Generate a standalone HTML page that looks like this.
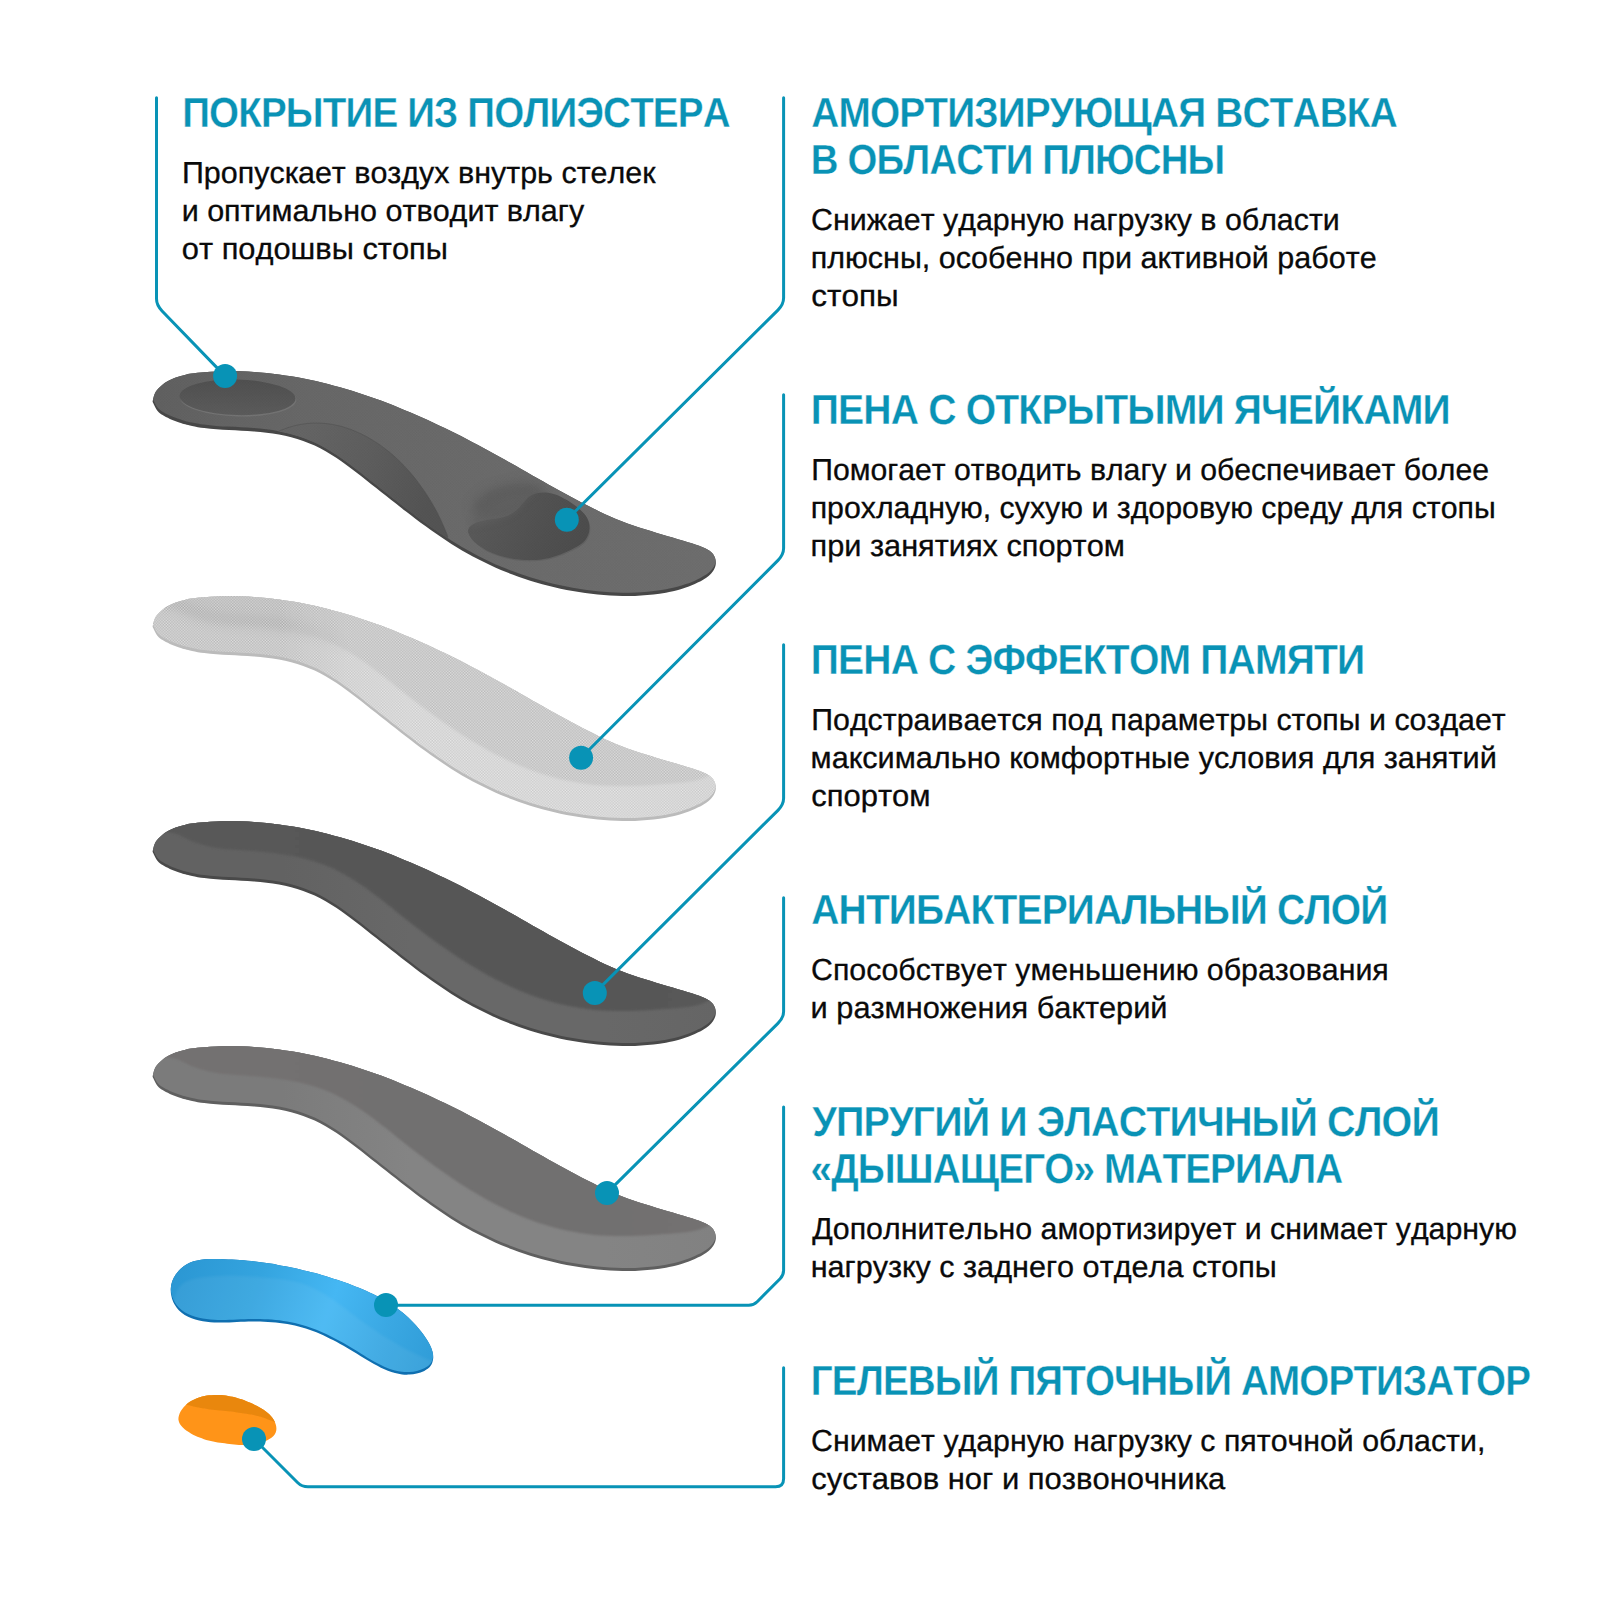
<!DOCTYPE html>
<html lang="ru"><head><meta charset="utf-8"><title>Стельки — слои</title>
<style>
html,body{margin:0;padding:0;background:#fff}
body{width:1600px;height:1600px;overflow:hidden}
svg{display:block}
text{font-kerning:none;text-rendering:geometricPrecision}
text.h{font-family:"Liberation Sans",sans-serif;font-weight:700;font-size:42.1px;fill:#0992b5;stroke:#fff;stroke-width:0.35px;letter-spacing:-0.9px}
text.b{font-family:"Liberation Sans",sans-serif;font-weight:400;font-size:30.4px;fill:#0a0a0a;stroke:#0a0a0a;stroke-width:0.3px}
</style></head><body>
<svg width="1600" height="1600" viewBox="0 0 1600 1600">
<defs>
<path id="outl" d="M152.9,400.1C153.3,398.2 154.2,394.5 155.6,392.0C157.1,389.6 159.5,387.2 161.6,385.4C163.6,383.6 165.5,382.4 168.0,381.0C170.5,379.7 173.8,378.3 176.6,377.3C179.4,376.2 182.3,375.5 184.8,374.9C187.3,374.3 188.3,374.1 191.5,373.6C194.7,373.1 199.8,372.5 204.0,372.2C208.2,371.8 212.4,371.5 216.6,371.4C220.7,371.2 224.9,371.1 229.1,371.1C233.3,371.0 237.4,371.1 241.6,371.2C245.8,371.4 249.9,371.6 254.1,371.9C258.3,372.2 262.4,372.5 266.6,372.9C270.7,373.4 274.8,373.9 279.0,374.4C283.1,375.0 287.2,375.6 291.3,376.3C295.4,377.0 299.5,377.7 303.6,378.5C307.7,379.3 311.8,380.2 315.8,381.1C319.9,382.0 323.9,383.0 328.0,384.0C332.0,385.1 336.0,386.2 340.0,387.3C344.0,388.4 348.0,389.6 352.0,390.8C356.0,392.1 359.9,393.3 363.9,394.7C367.8,396.0 371.7,397.3 375.7,398.8C379.6,400.2 383.5,401.6 387.4,403.1C391.3,404.6 395.1,406.1 399.0,407.7C402.9,409.3 406.7,410.9 410.6,412.5C414.4,414.1 418.2,415.8 422.0,417.5C425.8,419.2 429.6,421.0 433.4,422.7C437.2,424.5 440.9,426.3 444.7,428.1C448.4,429.9 452.2,431.8 455.9,433.6C459.6,435.5 463.3,437.4 467.0,439.3C470.7,441.2 474.4,443.2 478.0,445.1C481.7,447.1 485.3,449.1 489.0,451.0C492.6,453.0 496.2,455.0 499.9,457.0C503.5,459.0 507.1,461.1 510.7,463.1C514.3,465.1 518.0,467.2 521.6,469.2C525.2,471.3 528.8,473.3 532.4,475.4C536.1,477.4 539.7,479.5 543.3,481.5C547.0,483.6 550.6,485.7 554.3,487.7C557.9,489.7 561.6,491.8 565.3,493.8C569.0,495.8 572.7,497.8 576.4,499.8C580.1,501.8 583.8,503.7 587.5,505.6C591.3,507.5 595.0,509.4 598.8,511.2C602.6,513.0 606.4,514.7 610.2,516.4C614.0,518.0 617.8,519.6 621.7,521.2C625.5,522.7 629.4,524.1 633.3,525.5C637.2,526.9 641.1,528.1 645.0,529.3C648.9,530.6 652.9,531.7 656.8,532.9C660.8,534.1 664.7,535.2 668.7,536.4C672.7,537.5 677.2,538.8 680.7,539.9C684.3,541.0 687.4,542.0 689.9,542.8C692.5,543.6 694.0,544.1 696.0,544.8C698.1,545.5 700.2,546.2 702.1,547.0C704.1,547.8 706.2,548.6 707.9,549.7C709.7,550.8 711.4,552.0 712.6,553.6C713.9,555.2 714.9,557.2 715.4,559.2C715.9,561.1 716.0,563.3 715.6,565.3C715.2,567.3 714.2,569.3 713.1,571.1C712.0,572.8 710.5,574.4 708.9,575.8C707.3,577.2 705.4,578.4 703.5,579.5C701.7,580.7 699.7,581.7 697.7,582.6C695.8,583.6 693.8,584.4 691.8,585.3C689.8,586.1 687.8,586.8 685.8,587.5C683.8,588.2 682.1,588.8 679.8,589.4C677.5,590.1 675.2,590.7 671.8,591.4C668.5,592.1 663.7,593.0 659.6,593.7C655.6,594.3 651.5,594.8 647.3,595.1C643.2,595.5 639.1,595.8 635.0,595.9C630.8,596.1 626.7,596.1 622.5,596.1C618.4,596.0 614.2,595.9 610.1,595.6C605.9,595.4 601.7,595.1 597.6,594.6C593.4,594.2 589.3,593.7 585.2,593.1C581.0,592.5 576.9,591.9 572.8,591.1C568.7,590.4 564.6,589.6 560.5,588.7C556.4,587.8 552.4,586.8 548.3,585.8C544.3,584.8 540.2,583.7 536.2,582.5C532.2,581.3 528.3,580.0 524.3,578.7C520.4,577.4 516.4,576.0 512.5,574.5C508.6,573.0 504.8,571.5 500.9,569.9C497.1,568.3 493.3,566.6 489.5,564.8C485.8,563.1 482.0,561.2 478.3,559.3C474.7,557.4 471.0,555.5 467.4,553.5C463.8,551.4 460.2,549.3 456.7,547.2C453.1,545.0 449.6,542.8 446.2,540.5C442.7,538.2 439.3,535.9 435.9,533.6C432.5,531.2 429.1,528.8 425.7,526.3C422.3,523.9 419.0,521.4 415.7,518.9C412.3,516.4 409.0,513.9 405.7,511.3C402.4,508.8 399.1,506.2 395.9,503.6C392.6,501.0 389.3,498.4 386.0,495.8C382.7,493.2 379.5,490.6 376.2,488.0C372.9,485.4 369.6,482.8 366.3,480.2C363.0,477.6 359.7,475.0 356.4,472.5C353.1,469.9 349.8,467.4 346.4,464.9C343.0,462.5 339.6,460.1 336.2,457.8C332.7,455.5 329.2,453.3 325.6,451.3C322.0,449.2 318.4,447.3 314.7,445.6C310.9,443.8 307.1,442.3 303.2,440.9C299.3,439.5 295.3,438.3 291.2,437.3C287.2,436.2 283.1,435.4 279.0,434.6C274.8,433.8 270.6,433.2 266.5,432.7C262.3,432.2 258.1,431.8 253.9,431.4C249.7,431.1 245.5,430.9 241.4,430.7C237.2,430.4 233.0,430.3 228.9,430.0C224.8,429.8 220.6,429.6 216.5,429.3C212.4,428.9 208.3,428.6 204.2,428.0C200.2,427.5 195.2,426.6 192.1,425.9C188.9,425.3 187.2,424.8 185.2,424.3C183.2,423.8 182.5,423.6 180.0,422.7C177.4,421.8 172.8,420.2 169.9,418.9C167.0,417.6 164.7,416.4 162.6,415.1C160.5,413.8 159.1,413.1 157.6,411.0C156.0,409.0 154.0,404.8 153.2,403.0C152.4,401.1 152.5,401.9 152.9,400.1Z"/>
<path id="bluep" d="M170.7,1288.8C170.8,1286.3 171.4,1283.7 172.2,1281.3C173.1,1279.0 174.3,1276.7 175.7,1274.6C177.1,1272.5 178.9,1270.5 180.7,1268.8C182.6,1267.1 184.7,1265.5 186.8,1264.3C189.0,1263.0 191.3,1262.1 193.6,1261.3C196.0,1260.6 198.5,1260.1 201.0,1259.7C203.5,1259.3 206.0,1259.1 208.6,1259.0C211.2,1258.9 213.8,1258.9 216.4,1259.0C219.1,1259.0 221.7,1259.1 224.3,1259.2C226.9,1259.3 229.5,1259.4 232.1,1259.6C234.7,1259.7 237.3,1259.9 239.8,1260.1C242.4,1260.3 245.0,1260.5 247.5,1260.8C250.1,1261.0 252.6,1261.3 255.2,1261.6C257.7,1261.9 260.3,1262.2 262.8,1262.5C265.3,1262.9 267.8,1263.2 270.4,1263.6C272.9,1264.0 275.4,1264.4 277.9,1264.9C280.4,1265.3 282.9,1265.8 285.4,1266.2C287.9,1266.7 290.4,1267.2 292.8,1267.7C295.3,1268.3 297.8,1268.8 300.3,1269.4C302.7,1270.0 305.2,1270.6 307.7,1271.2C310.1,1271.8 312.6,1272.5 315.1,1273.1C317.5,1273.8 320.0,1274.5 322.4,1275.2C324.9,1275.9 327.3,1276.7 329.8,1277.4C332.2,1278.2 334.6,1279.0 337.1,1279.8C339.5,1280.6 342.0,1281.4 344.4,1282.3C346.8,1283.1 349.3,1284.0 351.7,1284.9C354.1,1285.9 356.5,1286.8 358.9,1287.8C361.3,1288.8 363.7,1289.8 366.0,1290.8C368.4,1291.9 370.7,1293.0 373.0,1294.1C375.3,1295.2 377.6,1296.4 379.9,1297.6C382.1,1298.9 384.4,1300.1 386.6,1301.4C388.7,1302.8 390.9,1304.1 393.0,1305.6C395.1,1307.0 397.2,1308.4 399.2,1310.0C401.3,1311.5 403.2,1313.1 405.2,1314.8C407.1,1316.4 409.0,1318.1 410.8,1319.9C412.6,1321.7 414.4,1323.5 416.1,1325.4C417.8,1327.3 419.5,1329.3 421.1,1331.4C422.6,1333.4 424.2,1335.6 425.6,1337.8C427.0,1340.0 428.5,1342.3 429.7,1344.6C430.8,1346.9 431.9,1349.4 432.5,1351.8C433.1,1354.2 433.5,1356.7 433.1,1359.0C432.8,1361.4 432.0,1364.0 430.5,1366.0C429.1,1368.0 426.6,1369.6 424.3,1370.9C422.0,1372.1 419.3,1372.9 416.8,1373.5C414.3,1374.1 411.9,1374.5 409.4,1374.6C407.0,1374.8 404.5,1374.7 402.1,1374.4C399.7,1374.2 397.3,1373.7 395.0,1373.1C392.6,1372.5 390.2,1371.7 387.9,1370.8C385.5,1369.9 383.2,1368.8 380.9,1367.7C378.6,1366.6 376.3,1365.3 374.0,1364.1C371.7,1362.8 369.4,1361.4 367.1,1360.1C364.9,1358.7 362.6,1357.3 360.4,1355.9C358.1,1354.5 355.9,1353.1 353.6,1351.7C351.4,1350.3 349.1,1349.0 346.9,1347.7C344.7,1346.4 342.4,1345.1 340.2,1343.9C338.0,1342.6 335.7,1341.4 333.5,1340.3C331.2,1339.1 329.0,1338.0 326.7,1336.9C324.4,1335.8 322.2,1334.8 319.9,1333.8C317.6,1332.9 315.2,1331.9 312.9,1331.1C310.6,1330.2 308.2,1329.4 305.8,1328.6C303.4,1327.9 301.0,1327.2 298.6,1326.5C296.1,1325.9 293.6,1325.4 291.1,1324.8C288.6,1324.3 286.1,1323.9 283.5,1323.5C281.0,1323.1 278.4,1322.8 275.8,1322.6C273.2,1322.3 270.6,1322.1 268.0,1321.9C265.4,1321.8 262.7,1321.7 260.1,1321.6C257.5,1321.5 254.9,1321.5 252.3,1321.6C249.7,1321.6 247.2,1321.7 244.6,1321.8C242.0,1321.8 239.5,1322.0 236.9,1322.1C234.4,1322.2 231.9,1322.3 229.3,1322.4C226.8,1322.5 224.3,1322.6 221.8,1322.6C219.2,1322.6 216.7,1322.5 214.2,1322.4C211.7,1322.3 209.2,1322.1 206.6,1321.7C204.1,1321.4 201.6,1321.0 199.1,1320.4C196.6,1319.8 194.0,1319.1 191.6,1318.2C189.2,1317.3 186.9,1316.2 184.7,1314.9C182.6,1313.6 180.6,1312.1 178.8,1310.2C177.1,1308.4 175.5,1306.3 174.3,1304.0C173.0,1301.8 172.0,1299.2 171.5,1296.6C170.9,1294.1 170.6,1291.4 170.7,1288.8Z"/>
<clipPath id="clipOut"><use href="#outl"/></clipPath>
<clipPath id="clipUp"><use href="#outl" transform="translate(0,-3.0)"/></clipPath>
<clipPath id="clipBlue"><path d="M170.7,1288.8C170.8,1286.3 171.4,1283.7 172.2,1281.3C173.1,1279.0 174.3,1276.7 175.7,1274.6C177.1,1272.5 178.9,1270.5 180.7,1268.8C182.6,1267.1 184.7,1265.5 186.8,1264.3C189.0,1263.0 191.3,1262.1 193.6,1261.3C196.0,1260.6 198.5,1260.1 201.0,1259.7C203.5,1259.3 206.0,1259.1 208.6,1259.0C211.2,1258.9 213.8,1258.9 216.4,1259.0C219.1,1259.0 221.7,1259.1 224.3,1259.2C226.9,1259.3 229.5,1259.4 232.1,1259.6C234.7,1259.7 237.3,1259.9 239.8,1260.1C242.4,1260.3 245.0,1260.5 247.5,1260.8C250.1,1261.0 252.6,1261.3 255.2,1261.6C257.7,1261.9 260.3,1262.2 262.8,1262.5C265.3,1262.9 267.8,1263.2 270.4,1263.6C272.9,1264.0 275.4,1264.4 277.9,1264.9C280.4,1265.3 282.9,1265.8 285.4,1266.2C287.9,1266.7 290.4,1267.2 292.8,1267.7C295.3,1268.3 297.8,1268.8 300.3,1269.4C302.7,1270.0 305.2,1270.6 307.7,1271.2C310.1,1271.8 312.6,1272.5 315.1,1273.1C317.5,1273.8 320.0,1274.5 322.4,1275.2C324.9,1275.9 327.3,1276.7 329.8,1277.4C332.2,1278.2 334.6,1279.0 337.1,1279.8C339.5,1280.6 342.0,1281.4 344.4,1282.3C346.8,1283.1 349.3,1284.0 351.7,1284.9C354.1,1285.9 356.5,1286.8 358.9,1287.8C361.3,1288.8 363.7,1289.8 366.0,1290.8C368.4,1291.9 370.7,1293.0 373.0,1294.1C375.3,1295.2 377.6,1296.4 379.9,1297.6C382.1,1298.9 384.4,1300.1 386.6,1301.4C388.7,1302.8 390.9,1304.1 393.0,1305.6C395.1,1307.0 397.2,1308.4 399.2,1310.0C401.3,1311.5 403.2,1313.1 405.2,1314.8C407.1,1316.4 409.0,1318.1 410.8,1319.9C412.6,1321.7 414.4,1323.5 416.1,1325.4C417.8,1327.3 419.5,1329.3 421.1,1331.4C422.6,1333.4 424.2,1335.6 425.6,1337.8C427.0,1340.0 428.5,1342.3 429.7,1344.6C430.8,1346.9 431.9,1349.4 432.5,1351.8C433.1,1354.2 433.5,1356.7 433.1,1359.0C432.8,1361.4 432.0,1364.0 430.5,1366.0C429.1,1368.0 426.6,1369.6 424.3,1370.9C422.0,1372.1 419.3,1372.9 416.8,1373.5C414.3,1374.1 411.9,1374.5 409.4,1374.6C407.0,1374.8 404.5,1374.7 402.1,1374.4C399.7,1374.2 397.3,1373.7 395.0,1373.1C392.6,1372.5 390.2,1371.7 387.9,1370.8C385.5,1369.9 383.2,1368.8 380.9,1367.7C378.6,1366.6 376.3,1365.3 374.0,1364.1C371.7,1362.8 369.4,1361.4 367.1,1360.1C364.9,1358.7 362.6,1357.3 360.4,1355.9C358.1,1354.5 355.9,1353.1 353.6,1351.7C351.4,1350.3 349.1,1349.0 346.9,1347.7C344.7,1346.4 342.4,1345.1 340.2,1343.9C338.0,1342.6 335.7,1341.4 333.5,1340.3C331.2,1339.1 329.0,1338.0 326.7,1336.9C324.4,1335.8 322.2,1334.8 319.9,1333.8C317.6,1332.9 315.2,1331.9 312.9,1331.1C310.6,1330.2 308.2,1329.4 305.8,1328.6C303.4,1327.9 301.0,1327.2 298.6,1326.5C296.1,1325.9 293.6,1325.4 291.1,1324.8C288.6,1324.3 286.1,1323.9 283.5,1323.5C281.0,1323.1 278.4,1322.8 275.8,1322.6C273.2,1322.3 270.6,1322.1 268.0,1321.9C265.4,1321.8 262.7,1321.7 260.1,1321.6C257.5,1321.5 254.9,1321.5 252.3,1321.6C249.7,1321.6 247.2,1321.7 244.6,1321.8C242.0,1321.8 239.5,1322.0 236.9,1322.1C234.4,1322.2 231.9,1322.3 229.3,1322.4C226.8,1322.5 224.3,1322.6 221.8,1322.6C219.2,1322.6 216.7,1322.5 214.2,1322.4C211.7,1322.3 209.2,1322.1 206.6,1321.7C204.1,1321.4 201.6,1321.0 199.1,1320.4C196.6,1319.8 194.0,1319.1 191.6,1318.2C189.2,1317.3 186.9,1316.2 184.7,1314.9C182.6,1313.6 180.6,1312.1 178.8,1310.2C177.1,1308.4 175.5,1306.3 174.3,1304.0C173.0,1301.8 172.0,1299.2 171.5,1296.6C170.9,1294.1 170.6,1291.4 170.7,1288.8Z"/></clipPath>
<clipPath id="clipBlueUp"><path d="M170.7,1288.8C170.8,1286.3 171.4,1283.7 172.2,1281.3C173.1,1279.0 174.3,1276.7 175.7,1274.6C177.1,1272.5 178.9,1270.5 180.7,1268.8C182.6,1267.1 184.7,1265.5 186.8,1264.3C189.0,1263.0 191.3,1262.1 193.6,1261.3C196.0,1260.6 198.5,1260.1 201.0,1259.7C203.5,1259.3 206.0,1259.1 208.6,1259.0C211.2,1258.9 213.8,1258.9 216.4,1259.0C219.1,1259.0 221.7,1259.1 224.3,1259.2C226.9,1259.3 229.5,1259.4 232.1,1259.6C234.7,1259.7 237.3,1259.9 239.8,1260.1C242.4,1260.3 245.0,1260.5 247.5,1260.8C250.1,1261.0 252.6,1261.3 255.2,1261.6C257.7,1261.9 260.3,1262.2 262.8,1262.5C265.3,1262.9 267.8,1263.2 270.4,1263.6C272.9,1264.0 275.4,1264.4 277.9,1264.9C280.4,1265.3 282.9,1265.8 285.4,1266.2C287.9,1266.7 290.4,1267.2 292.8,1267.7C295.3,1268.3 297.8,1268.8 300.3,1269.4C302.7,1270.0 305.2,1270.6 307.7,1271.2C310.1,1271.8 312.6,1272.5 315.1,1273.1C317.5,1273.8 320.0,1274.5 322.4,1275.2C324.9,1275.9 327.3,1276.7 329.8,1277.4C332.2,1278.2 334.6,1279.0 337.1,1279.8C339.5,1280.6 342.0,1281.4 344.4,1282.3C346.8,1283.1 349.3,1284.0 351.7,1284.9C354.1,1285.9 356.5,1286.8 358.9,1287.8C361.3,1288.8 363.7,1289.8 366.0,1290.8C368.4,1291.9 370.7,1293.0 373.0,1294.1C375.3,1295.2 377.6,1296.4 379.9,1297.6C382.1,1298.9 384.4,1300.1 386.6,1301.4C388.7,1302.8 390.9,1304.1 393.0,1305.6C395.1,1307.0 397.2,1308.4 399.2,1310.0C401.3,1311.5 403.2,1313.1 405.2,1314.8C407.1,1316.4 409.0,1318.1 410.8,1319.9C412.6,1321.7 414.4,1323.5 416.1,1325.4C417.8,1327.3 419.5,1329.3 421.1,1331.4C422.6,1333.4 424.2,1335.6 425.6,1337.8C427.0,1340.0 428.5,1342.3 429.7,1344.6C430.8,1346.9 431.9,1349.4 432.5,1351.8C433.1,1354.2 433.5,1356.7 433.1,1359.0C432.8,1361.4 432.0,1364.0 430.5,1366.0C429.1,1368.0 426.6,1369.6 424.3,1370.9C422.0,1372.1 419.3,1372.9 416.8,1373.5C414.3,1374.1 411.9,1374.5 409.4,1374.6C407.0,1374.8 404.5,1374.7 402.1,1374.4C399.7,1374.2 397.3,1373.7 395.0,1373.1C392.6,1372.5 390.2,1371.7 387.9,1370.8C385.5,1369.9 383.2,1368.8 380.9,1367.7C378.6,1366.6 376.3,1365.3 374.0,1364.1C371.7,1362.8 369.4,1361.4 367.1,1360.1C364.9,1358.7 362.6,1357.3 360.4,1355.9C358.1,1354.5 355.9,1353.1 353.6,1351.7C351.4,1350.3 349.1,1349.0 346.9,1347.7C344.7,1346.4 342.4,1345.1 340.2,1343.9C338.0,1342.6 335.7,1341.4 333.5,1340.3C331.2,1339.1 329.0,1338.0 326.7,1336.9C324.4,1335.8 322.2,1334.8 319.9,1333.8C317.6,1332.9 315.2,1331.9 312.9,1331.1C310.6,1330.2 308.2,1329.4 305.8,1328.6C303.4,1327.9 301.0,1327.2 298.6,1326.5C296.1,1325.9 293.6,1325.4 291.1,1324.8C288.6,1324.3 286.1,1323.9 283.5,1323.5C281.0,1323.1 278.4,1322.8 275.8,1322.6C273.2,1322.3 270.6,1322.1 268.0,1321.9C265.4,1321.8 262.7,1321.7 260.1,1321.6C257.5,1321.5 254.9,1321.5 252.3,1321.6C249.7,1321.6 247.2,1321.7 244.6,1321.8C242.0,1321.8 239.5,1322.0 236.9,1322.1C234.4,1322.2 231.9,1322.3 229.3,1322.4C226.8,1322.5 224.3,1322.6 221.8,1322.6C219.2,1322.6 216.7,1322.5 214.2,1322.4C211.7,1322.3 209.2,1322.1 206.6,1321.7C204.1,1321.4 201.6,1321.0 199.1,1320.4C196.6,1319.8 194.0,1319.1 191.6,1318.2C189.2,1317.3 186.9,1316.2 184.7,1314.9C182.6,1313.6 180.6,1312.1 178.8,1310.2C177.1,1308.4 175.5,1306.3 174.3,1304.0C173.0,1301.8 172.0,1299.2 171.5,1296.6C170.9,1294.1 170.6,1291.4 170.7,1288.8Z" transform="translate(0,-2.6)"/></clipPath>
<clipPath id="clipOr"><path d="M178.5,1420.1C178.3,1418.7 178.5,1417.1 178.9,1415.7C179.2,1414.2 179.9,1412.7 180.7,1411.3C181.5,1409.9 182.6,1408.5 183.6,1407.2C184.7,1406.0 185.9,1404.9 187.1,1403.8C188.4,1402.8 189.7,1401.9 191.1,1401.1C192.5,1400.3 193.9,1399.5 195.3,1398.9C196.8,1398.2 198.3,1397.7 199.8,1397.2C201.3,1396.7 202.9,1396.4 204.5,1396.0C206.0,1395.7 207.6,1395.5 209.2,1395.3C210.8,1395.1 212.4,1395.0 214.0,1394.9C215.6,1394.9 217.2,1394.9 218.8,1395.0C220.4,1395.0 222.0,1395.1 223.5,1395.3C225.1,1395.4 226.6,1395.6 228.1,1395.9C229.6,1396.2 231.1,1396.5 232.6,1396.8C234.1,1397.1 235.6,1397.5 237.1,1397.9C238.6,1398.4 240.0,1398.8 241.5,1399.3C243.0,1399.9 244.5,1400.4 245.9,1401.0C247.4,1401.6 248.9,1402.2 250.4,1402.8C251.9,1403.5 253.4,1404.2 254.9,1404.9C256.4,1405.6 257.9,1406.4 259.3,1407.2C260.8,1408.0 262.2,1408.9 263.6,1409.8C264.9,1410.7 266.3,1411.7 267.5,1412.7C268.7,1413.8 269.9,1414.8 270.9,1416.0C271.9,1417.2 272.9,1418.5 273.7,1419.8C274.4,1421.1 275.2,1422.6 275.6,1424.0C276.1,1425.5 276.4,1427.0 276.4,1428.5C276.4,1429.9 276.3,1431.3 275.7,1432.6C275.2,1433.9 274.3,1435.1 273.2,1436.2C272.2,1437.2 270.8,1438.2 269.4,1439.0C268.0,1439.9 266.5,1440.6 265.0,1441.2C263.5,1441.9 261.9,1442.4 260.4,1442.9C258.8,1443.3 257.3,1443.7 255.7,1444.0C254.1,1444.3 252.5,1444.5 251.0,1444.7C249.4,1444.9 247.8,1445.0 246.2,1445.0C244.6,1445.1 243.0,1445.0 241.4,1445.0C239.8,1445.0 238.2,1444.9 236.6,1444.7C235.0,1444.6 233.4,1444.5 231.8,1444.3C230.2,1444.1 228.7,1443.9 227.1,1443.7C225.5,1443.5 223.9,1443.3 222.4,1443.1C220.8,1442.9 219.3,1442.6 217.7,1442.4C216.2,1442.1 214.6,1441.8 213.1,1441.5C211.6,1441.2 210.1,1440.8 208.5,1440.5C207.0,1440.1 205.5,1439.7 204.0,1439.2C202.5,1438.7 201.1,1438.2 199.6,1437.6C198.1,1437.1 196.7,1436.4 195.2,1435.7C193.7,1435.0 192.3,1434.3 190.9,1433.5C189.4,1432.6 188.0,1431.7 186.6,1430.8C185.3,1429.8 183.9,1428.8 182.8,1427.6C181.7,1426.5 180.6,1425.3 179.9,1424.1C179.2,1422.8 178.7,1421.4 178.5,1420.1Z"/></clipPath>
<filter id="bi2" x="-5%" y="-5%" width="110%" height="110%"><feGaussianBlur stdDeviation="0.9"/></filter>
<filter id="bi3" x="-5%" y="-5%" width="110%" height="110%"><feGaussianBlur stdDeviation="0.9"/></filter>
<filter id="bi4" x="-5%" y="-5%" width="110%" height="110%"><feGaussianBlur stdDeviation="0.9"/></filter>
<filter id="bl5" x="-10%" y="-20%" width="120%" height="140%"><feGaussianBlur stdDeviation="5"/></filter>
<linearGradient id="gHeel" gradientUnits="userSpaceOnUse" x1="270" y1="0" x2="330" y2="0"><stop offset="0" stop-color="#000"/><stop offset="1" stop-color="#fff"/></linearGradient>
<mask id="mHeel" maskUnits="userSpaceOnUse" x="100" y="300" width="700" height="350"><rect x="100" y="300" width="700" height="350" fill="url(#gHeel)"/></mask>
<linearGradient id="gRidge" gradientUnits="userSpaceOnUse" x1="150" y1="0" x2="350" y2="0"><stop offset="0" stop-color="#fff"/><stop offset="0.65" stop-color="#fff"/><stop offset="1" stop-color="#000"/></linearGradient>
<mask id="mRidge" maskUnits="userSpaceOnUse" x="100" y="300" width="700" height="350"><rect x="100" y="300" width="700" height="350" fill="url(#gRidge)"/></mask>
<filter id="bl6" x="-30%" y="-30%" width="160%" height="160%"><feGaussianBlur stdDeviation="6"/></filter>
<filter id="bl2" x="-10%" y="-10%" width="120%" height="120%"><feGaussianBlur stdDeviation="1.6"/></filter>
<filter id="bl3" x="-30%" y="-30%" width="160%" height="160%"><feGaussianBlur stdDeviation="3"/></filter>
<filter id="bl05" x="-5%" y="-5%" width="110%" height="110%"><feGaussianBlur stdDeviation="0.5"/></filter>
<linearGradient id="g1top" gradientUnits="userSpaceOnUse" x1="160" y1="400" x2="700" y2="560"><stop offset="0" stop-color="#5f5f5f"/><stop offset="0.25" stop-color="#666"/><stop offset="0.6" stop-color="#696969"/><stop offset="1" stop-color="#6c6c6c"/></linearGradient>
<linearGradient id="g1arch" gradientUnits="userSpaceOnUse" x1="300" y1="440" x2="432" y2="492"><stop offset="0" stop-color="#636363"/><stop offset="0.5" stop-color="#5c5c5c"/><stop offset="1" stop-color="#525252"/></linearGradient>
<linearGradient id="g1cup" gradientUnits="userSpaceOnUse" x1="237" y1="380" x2="237" y2="416"><stop offset="0" stop-color="#4e4e4e"/><stop offset="1" stop-color="#5a5a5a"/></linearGradient>
<linearGradient id="g1pad" gradientUnits="userSpaceOnUse" x1="480" y1="500" x2="585" y2="545"><stop offset="0" stop-color="#585858"/><stop offset="0.6" stop-color="#4f4f4f"/><stop offset="1" stop-color="#4a4a4a"/></linearGradient>
<linearGradient id="gblue" gradientUnits="userSpaceOnUse" x1="175" y1="1270" x2="430" y2="1370"><stop offset="0" stop-color="#2b97d3"/><stop offset="0.3" stop-color="#34a4df"/><stop offset="0.58" stop-color="#45b7f3"/><stop offset="0.8" stop-color="#3aa8e3"/><stop offset="1" stop-color="#309dd8"/></linearGradient>
<linearGradient id="gblue2" gradientUnits="userSpaceOnUse" x1="175" y1="1270" x2="430" y2="1370"><stop offset="0" stop-color="#2f9cd8"/><stop offset="0.55" stop-color="#4cbcf6"/><stop offset="1" stop-color="#3aa9e4"/></linearGradient>
<linearGradient id="gb2" gradientUnits="userSpaceOnUse" x1="160" y1="0" x2="716" y2="0"><stop offset="0" stop-color="#cbcbcb"/><stop offset="0.22" stop-color="#cbcbcb"/><stop offset="0.45" stop-color="#d5d5d5"/><stop offset="0.8" stop-color="#d5d5d5"/><stop offset="1" stop-color="#d2d2d2"/></linearGradient>
<linearGradient id="gb3" gradientUnits="userSpaceOnUse" x1="160" y1="0" x2="716" y2="0"><stop offset="0" stop-color="#626262"/><stop offset="0.22" stop-color="#626262"/><stop offset="0.45" stop-color="#686868"/><stop offset="0.8" stop-color="#686868"/><stop offset="1" stop-color="#656565"/></linearGradient>
<linearGradient id="gb4" gradientUnits="userSpaceOnUse" x1="160" y1="0" x2="716" y2="0"><stop offset="0" stop-color="#7b7b7b"/><stop offset="0.22" stop-color="#7b7b7b"/><stop offset="0.45" stop-color="#848484"/><stop offset="0.8" stop-color="#848484"/><stop offset="1" stop-color="#818181"/></linearGradient>
<linearGradient id="gt3" gradientUnits="userSpaceOnUse" x1="160" y1="0" x2="716" y2="0"><stop offset="0" stop-color="#585858"/><stop offset="0.22" stop-color="#585858"/><stop offset="0.45" stop-color="#565656"/><stop offset="0.8" stop-color="#565656"/><stop offset="1" stop-color="#595959"/></linearGradient>
<linearGradient id="gt4" gradientUnits="userSpaceOnUse" x1="160" y1="0" x2="716" y2="0"><stop offset="0" stop-color="#737171"/><stop offset="0.22" stop-color="#737171"/><stop offset="0.45" stop-color="#716f6f"/><stop offset="0.8" stop-color="#716f6f"/><stop offset="1" stop-color="#747272"/></linearGradient>
<pattern id="hatchL" width="2.83" height="2.83" patternUnits="userSpaceOnUse"><rect width="1.415" height="1.415" fill="#fff" opacity="0.46"/><rect x="1.415" y="1.415" width="1.415" height="1.415" fill="#fff" opacity="0.46"/><rect x="1.415" width="1.415" height="1.415" fill="#000" opacity="0.06"/><rect y="1.415" width="1.415" height="1.415" fill="#000" opacity="0.06"/></pattern>
<pattern id="hatchD" width="2.83" height="2.83" patternUnits="userSpaceOnUse"><rect width="1.415" height="1.415" fill="#fff" opacity="0.035"/><rect x="1.415" y="1.415" width="1.415" height="1.415" fill="#fff" opacity="0.035"/><rect x="1.415" width="1.415" height="1.415" fill="#000" opacity="0.035"/><rect y="1.415" width="1.415" height="1.415" fill="#000" opacity="0.035"/></pattern>
</defs>
<rect width="1600" height="1600" fill="#fff"/>
<g><use href="#outl" fill="#474747"/><g clip-path="url(#clipOut)"><use href="#outl" transform="translate(0,-3.4)" fill="url(#g1top)"/><g clip-path="url(#clipUp)"><path d="M275.2,432.9C276.3,432.4 279.5,430.9 281.7,430.0C283.8,429.1 286.0,428.3 288.1,427.6C290.2,426.9 292.4,426.3 294.5,425.7C296.7,425.2 298.8,424.7 301.0,424.4C303.1,424.0 305.3,423.7 307.4,423.5C309.5,423.3 311.6,423.1 313.8,423.1C315.9,423.0 318.0,423.0 320.1,423.1C322.2,423.2 324.3,423.4 326.4,423.6C328.5,423.8 330.6,424.1 332.6,424.5C334.7,424.9 336.8,425.3 338.8,425.8C340.8,426.3 342.9,426.8 344.9,427.5C346.9,428.1 348.9,428.8 350.9,429.5C352.9,430.2 354.9,431.0 356.8,431.9C358.8,432.7 360.7,433.6 362.6,434.6C364.5,435.5 366.4,436.5 368.3,437.6C370.2,438.6 372.0,439.7 373.8,440.9C375.7,442.0 377.5,443.2 379.3,444.4C381.0,445.7 382.8,447.0 384.5,448.3C386.3,449.6 388.0,450.9 389.7,452.3C391.3,453.7 393.0,455.1 394.6,456.6C396.2,458.1 397.8,459.6 399.4,461.1C401.0,462.6 402.5,464.2 404.0,465.7C405.6,467.3 407.0,468.9 408.5,470.6C410.0,472.2 411.4,473.9 412.8,475.6C414.2,477.3 415.6,479.0 416.9,480.7C418.2,482.5 419.6,484.2 420.8,486.0C422.1,487.8 423.4,489.6 424.6,491.4C425.8,493.2 427.0,495.0 428.2,496.9C429.3,498.7 430.5,500.5 431.6,502.4C432.7,504.3 433.7,506.2 434.8,508.0C435.8,509.9 436.8,511.8 437.8,513.7C438.7,515.6 439.7,517.5 440.6,519.4C441.5,521.3 442.4,523.3 443.2,525.2C444.1,527.1 444.9,529.0 445.6,530.9C446.4,532.8 447.5,535.7 447.9,536.6 L440,600 L250,600 L250,433 Z" fill="url(#g1arch)"/><path d="M275.2,432.9C276.3,432.4 279.5,430.9 281.7,430.0C283.8,429.1 286.0,428.3 288.1,427.6C290.2,426.9 292.4,426.3 294.5,425.7C296.7,425.2 298.8,424.7 301.0,424.4C303.1,424.0 305.3,423.7 307.4,423.5C309.5,423.3 311.6,423.1 313.8,423.1C315.9,423.0 318.0,423.0 320.1,423.1C322.2,423.2 324.3,423.4 326.4,423.6C328.5,423.8 330.6,424.1 332.6,424.5C334.7,424.9 336.8,425.3 338.8,425.8C340.8,426.3 342.9,426.8 344.9,427.5C346.9,428.1 348.9,428.8 350.9,429.5C352.9,430.2 354.9,431.0 356.8,431.9C358.8,432.7 360.7,433.6 362.6,434.6C364.5,435.5 366.4,436.5 368.3,437.6C370.2,438.6 372.0,439.7 373.8,440.9C375.7,442.0 377.5,443.2 379.3,444.4C381.0,445.7 382.8,447.0 384.5,448.3C386.3,449.6 388.0,450.9 389.7,452.3C391.3,453.7 393.0,455.1 394.6,456.6C396.2,458.1 397.8,459.6 399.4,461.1C401.0,462.6 402.5,464.2 404.0,465.7C405.6,467.3 407.0,468.9 408.5,470.6C410.0,472.2 411.4,473.9 412.8,475.6C414.2,477.3 415.6,479.0 416.9,480.7C418.2,482.5 419.6,484.2 420.8,486.0C422.1,487.8 423.4,489.6 424.6,491.4C425.8,493.2 427.0,495.0 428.2,496.9C429.3,498.7 430.5,500.5 431.6,502.4C432.7,504.3 433.7,506.2 434.8,508.0C435.8,509.9 436.8,511.8 437.8,513.7C438.7,515.6 439.7,517.5 440.6,519.4C441.5,521.3 442.4,523.3 443.2,525.2C444.1,527.1 444.9,529.0 445.6,530.9C446.4,532.8 447.5,535.7 447.9,536.6" fill="none" stroke="#4f4f4f" stroke-width="1" opacity="0.55"/><g transform="rotate(1.4 237.5 397.5)"><ellipse cx="238.2" cy="398.6" rx="58.2" ry="17.9" fill="#727272"/><ellipse cx="237.5" cy="397.3" rx="58" ry="17.8" fill="url(#g1cup)"/></g><ellipse cx="510" cy="501" rx="38" ry="17" transform="rotate(-14 510 501)" fill="#555" opacity="0.6" filter="url(#bl6)"/><path d="M468.0,530.7C467.9,531.9 468.4,533.4 469.0,534.8C469.6,536.1 470.7,537.6 471.7,539.0C472.8,540.3 474.2,541.6 475.5,542.8C476.8,544.0 478.3,545.1 479.7,546.1C481.2,547.2 482.6,548.1 484.1,549.0C485.5,549.8 487.0,550.6 488.4,551.3C489.9,552.0 491.4,552.7 492.9,553.3C494.4,553.9 495.9,554.4 497.4,554.9C498.9,555.4 500.5,555.9 502.1,556.3C503.6,556.8 505.2,557.2 506.8,557.5C508.4,557.9 510.1,558.2 511.7,558.5C513.3,558.8 515.0,559.1 516.7,559.3C518.3,559.5 520.0,559.7 521.7,559.8C523.3,560.0 525.0,560.1 526.7,560.1C528.3,560.2 530.0,560.2 531.7,560.1C533.4,560.1 535.0,560.0 536.7,559.9C538.3,559.8 540.0,559.6 541.6,559.4C543.2,559.2 544.9,558.9 546.5,558.6C548.1,558.2 549.6,557.9 551.2,557.4C552.8,557.0 554.3,556.5 555.8,556.0C557.4,555.5 558.9,554.9 560.4,554.4C562.0,553.8 563.5,553.1 565.0,552.5C566.6,551.8 568.1,551.1 569.7,550.4C571.3,549.6 572.9,548.9 574.4,548.1C576.0,547.3 577.6,546.5 579.0,545.5C580.4,544.6 581.8,543.6 583.0,542.5C584.3,541.3 585.4,540.1 586.2,538.7C587.1,537.4 587.8,535.9 588.4,534.3C588.9,532.8 589.2,531.2 589.4,529.6C589.6,528.0 589.5,526.3 589.3,524.7C589.1,523.2 588.7,521.6 588.1,520.2C587.5,518.7 586.7,517.3 585.9,516.0C585.0,514.7 583.9,513.5 582.8,512.3C581.7,511.1 580.4,509.9 579.1,508.8C577.8,507.7 576.4,506.6 575.1,505.6C573.7,504.6 572.2,503.6 570.8,502.6C569.4,501.6 567.9,500.7 566.5,499.8C565.0,499.0 563.6,498.1 562.1,497.4C560.6,496.6 559.1,495.9 557.6,495.3C556.1,494.7 554.5,494.1 553.0,493.7C551.4,493.3 549.9,492.9 548.3,492.7C546.7,492.5 545.1,492.4 543.4,492.4C541.8,492.4 540.1,492.6 538.5,492.9C536.9,493.2 535.2,493.6 533.7,494.2C532.2,494.8 530.7,495.6 529.4,496.5C528.1,497.4 526.9,498.6 525.8,499.8C524.6,501.0 523.6,502.3 522.5,503.6C521.4,504.9 520.4,506.2 519.2,507.4C518.1,508.6 516.8,509.7 515.6,510.7C514.3,511.8 513.0,512.7 511.6,513.6C510.3,514.4 508.8,515.2 507.4,515.8C505.9,516.4 504.4,516.9 502.9,517.3C501.4,517.7 499.8,518.0 498.2,518.3C496.6,518.6 495.0,518.8 493.3,519.0C491.6,519.2 489.9,519.4 488.2,519.7C486.4,520.0 484.6,520.3 482.8,520.8C481.1,521.2 479.2,521.7 477.5,522.3C475.8,522.9 474.2,523.6 472.8,524.5C471.5,525.3 470.2,526.2 469.4,527.2C468.6,528.3 468.1,529.4 468.0,530.7Z" fill="#616161" transform="translate(0.8,1.2)"/><path d="M468.0,530.7C467.9,531.9 468.4,533.4 469.0,534.8C469.6,536.1 470.7,537.6 471.7,539.0C472.8,540.3 474.2,541.6 475.5,542.8C476.8,544.0 478.3,545.1 479.7,546.1C481.2,547.2 482.6,548.1 484.1,549.0C485.5,549.8 487.0,550.6 488.4,551.3C489.9,552.0 491.4,552.7 492.9,553.3C494.4,553.9 495.9,554.4 497.4,554.9C498.9,555.4 500.5,555.9 502.1,556.3C503.6,556.8 505.2,557.2 506.8,557.5C508.4,557.9 510.1,558.2 511.7,558.5C513.3,558.8 515.0,559.1 516.7,559.3C518.3,559.5 520.0,559.7 521.7,559.8C523.3,560.0 525.0,560.1 526.7,560.1C528.3,560.2 530.0,560.2 531.7,560.1C533.4,560.1 535.0,560.0 536.7,559.9C538.3,559.8 540.0,559.6 541.6,559.4C543.2,559.2 544.9,558.9 546.5,558.6C548.1,558.2 549.6,557.9 551.2,557.4C552.8,557.0 554.3,556.5 555.8,556.0C557.4,555.5 558.9,554.9 560.4,554.4C562.0,553.8 563.5,553.1 565.0,552.5C566.6,551.8 568.1,551.1 569.7,550.4C571.3,549.6 572.9,548.9 574.4,548.1C576.0,547.3 577.6,546.5 579.0,545.5C580.4,544.6 581.8,543.6 583.0,542.5C584.3,541.3 585.4,540.1 586.2,538.7C587.1,537.4 587.8,535.9 588.4,534.3C588.9,532.8 589.2,531.2 589.4,529.6C589.6,528.0 589.5,526.3 589.3,524.7C589.1,523.2 588.7,521.6 588.1,520.2C587.5,518.7 586.7,517.3 585.9,516.0C585.0,514.7 583.9,513.5 582.8,512.3C581.7,511.1 580.4,509.9 579.1,508.8C577.8,507.7 576.4,506.6 575.1,505.6C573.7,504.6 572.2,503.6 570.8,502.6C569.4,501.6 567.9,500.7 566.5,499.8C565.0,499.0 563.6,498.1 562.1,497.4C560.6,496.6 559.1,495.9 557.6,495.3C556.1,494.7 554.5,494.1 553.0,493.7C551.4,493.3 549.9,492.9 548.3,492.7C546.7,492.5 545.1,492.4 543.4,492.4C541.8,492.4 540.1,492.6 538.5,492.9C536.9,493.2 535.2,493.6 533.7,494.2C532.2,494.8 530.7,495.6 529.4,496.5C528.1,497.4 526.9,498.6 525.8,499.8C524.6,501.0 523.6,502.3 522.5,503.6C521.4,504.9 520.4,506.2 519.2,507.4C518.1,508.6 516.8,509.7 515.6,510.7C514.3,511.8 513.0,512.7 511.6,513.6C510.3,514.4 508.8,515.2 507.4,515.8C505.9,516.4 504.4,516.9 502.9,517.3C501.4,517.7 499.8,518.0 498.2,518.3C496.6,518.6 495.0,518.8 493.3,519.0C491.6,519.2 489.9,519.4 488.2,519.7C486.4,520.0 484.6,520.3 482.8,520.8C481.1,521.2 479.2,521.7 477.5,522.3C475.8,522.9 474.2,523.6 472.8,524.5C471.5,525.3 470.2,526.2 469.4,527.2C468.6,528.3 468.1,529.4 468.0,530.7Z" fill="url(#g1pad)"/><path d="M472,528 C492,522 512,518 520,508 C524,502 528,497 536,494 C520,488 500,492 488,502 C478,510 470,520 472,528Z" fill="#5e5e5e" opacity="0.55" filter="url(#bl3)"/><rect x="140" y="360" width="600" height="250" fill="url(#hatchD)" opacity="0.5"/></g></g></g>
<g transform="translate(0,225)"><use href="#outl" fill="#bbbbbb"/><g clip-path="url(#clipOut)"><use href="#outl" transform="translate(0,-3.0)" fill="url(#gb2)"/><g clip-path="url(#clipUp)"><g mask="url(#mRidge)"><path d="M165.1,382.1C167.1,382.4 173.1,382.8 177.3,384.2C181.5,385.5 185.9,388.5 190.2,390.4C194.6,392.2 199.0,393.8 203.4,395.0C207.9,396.3 212.3,397.1 216.9,397.9C221.4,398.6 225.9,399.0 230.5,399.5C235.1,399.9 239.7,400.2 244.4,400.5C249.0,400.8 253.7,401.1 258.4,401.5C263.1,401.9 267.9,402.4 272.6,403.0C277.3,403.6 282.0,404.2 286.7,405.0C291.4,405.8 296.0,406.7 300.6,407.8C305.2,408.8 309.7,410.0 314.2,411.4C318.6,412.8 323.0,414.3 327.2,416.1C331.5,417.8 335.7,419.8 339.7,421.9C343.8,424.0 347.8,426.3 351.7,428.7C355.6,431.1 359.4,433.7 363.2,436.3C367.0,438.9 370.8,441.7 374.5,444.5C378.2,447.3 381.9,450.2 385.6,453.1C389.3,456.0 392.9,458.9 396.6,461.9C400.3,464.8 404.0,467.7 407.7,470.7C411.4,473.6 415.1,476.5 418.9,479.3C422.6,482.2 426.4,485.0 430.2,487.8C434.0,490.6 437.9,493.4 441.7,496.1C445.6,498.8 449.4,501.5 453.3,504.1C457.3,506.7 461.2,509.3 465.1,511.8C469.1,514.3 473.1,516.7 477.1,519.1C481.1,521.4 485.2,523.7 489.3,525.9C493.3,528.2 497.5,530.3 501.6,532.3C505.8,534.4 509.9,536.4 514.2,538.2C518.4,540.1 522.6,541.9 526.9,543.6C531.2,545.2 535.5,546.8 539.9,548.3C544.2,549.7 548.6,551.1 553.1,552.3C557.5,553.5 562.0,554.6 566.5,555.6C571.0,556.6 575.6,557.4 580.2,558.1C584.8,558.9 589.5,559.4 594.2,559.9C598.9,560.3 603.6,560.6 608.4,560.8C613.1,561.0 617.9,561.0 622.7,561.0C627.5,561.0 632.3,560.9 637.0,560.7C641.8,560.5 646.6,560.3 651.3,560.0C656.0,559.7 660.7,559.3 665.3,559.0C670.0,558.6 674.6,558.3 679.1,557.9C683.6,557.4 688.0,557.2 692.5,556.3C696.9,555.4 701.3,554.2 705.6,552.3C709.8,550.4 716.0,546.0 718.1,544.8 L730,540 L730,340 L140,340 L140,383 Z" fill="#c3c3c3" filter="url(#bl5)"/></g><g mask="url(#mHeel)"><path d="M165.1,382.1C167.1,382.4 173.1,382.8 177.3,384.2C181.5,385.5 185.9,388.5 190.2,390.4C194.6,392.2 199.0,393.8 203.4,395.0C207.9,396.3 212.3,397.1 216.9,397.9C221.4,398.6 225.9,399.0 230.5,399.5C235.1,399.9 239.7,400.2 244.4,400.5C249.0,400.8 253.7,401.1 258.4,401.5C263.1,401.9 267.9,402.4 272.6,403.0C277.3,403.6 282.0,404.2 286.7,405.0C291.4,405.8 296.0,406.7 300.6,407.8C305.2,408.8 309.7,410.0 314.2,411.4C318.6,412.8 323.0,414.3 327.2,416.1C331.5,417.8 335.7,419.8 339.7,421.9C343.8,424.0 347.8,426.3 351.7,428.7C355.6,431.1 359.4,433.7 363.2,436.3C367.0,438.9 370.8,441.7 374.5,444.5C378.2,447.3 381.9,450.2 385.6,453.1C389.3,456.0 392.9,458.9 396.6,461.9C400.3,464.8 404.0,467.7 407.7,470.7C411.4,473.6 415.1,476.5 418.9,479.3C422.6,482.2 426.4,485.0 430.2,487.8C434.0,490.6 437.9,493.4 441.7,496.1C445.6,498.8 449.4,501.5 453.3,504.1C457.3,506.7 461.2,509.3 465.1,511.8C469.1,514.3 473.1,516.7 477.1,519.1C481.1,521.4 485.2,523.7 489.3,525.9C493.3,528.2 497.5,530.3 501.6,532.3C505.8,534.4 509.9,536.4 514.2,538.2C518.4,540.1 522.6,541.9 526.9,543.6C531.2,545.2 535.5,546.8 539.9,548.3C544.2,549.7 548.6,551.1 553.1,552.3C557.5,553.5 562.0,554.6 566.5,555.6C571.0,556.6 575.6,557.4 580.2,558.1C584.8,558.9 589.5,559.4 594.2,559.9C598.9,560.3 603.6,560.6 608.4,560.8C613.1,561.0 617.9,561.0 622.7,561.0C627.5,561.0 632.3,560.9 637.0,560.7C641.8,560.5 646.6,560.3 651.3,560.0C656.0,559.7 660.7,559.3 665.3,559.0C670.0,558.6 674.6,558.3 679.1,557.9C683.6,557.4 688.0,557.2 692.5,556.3C696.9,555.4 701.3,554.2 705.6,552.3C709.8,550.4 716.0,546.0 718.1,544.8 L730,540 L730,340 L140,340 L140,383 Z" fill="#c3c3c3" filter="url(#bi2)"/></g><path d="M165.1,382.1C167.1,382.4 173.1,382.8 177.3,384.2C181.5,385.5 185.9,388.5 190.2,390.4C194.6,392.2 199.0,393.8 203.4,395.0C207.9,396.3 212.3,397.1 216.9,397.9C221.4,398.6 225.9,399.0 230.5,399.5C235.1,399.9 239.7,400.2 244.4,400.5C249.0,400.8 253.7,401.1 258.4,401.5C263.1,401.9 267.9,402.4 272.6,403.0C277.3,403.6 282.0,404.2 286.7,405.0C291.4,405.8 296.0,406.7 300.6,407.8C305.2,408.8 309.7,410.0 314.2,411.4C318.6,412.8 323.0,414.3 327.2,416.1C331.5,417.8 335.7,419.8 339.7,421.9C343.8,424.0 347.8,426.3 351.7,428.7C355.6,431.1 359.4,433.7 363.2,436.3C367.0,438.9 370.8,441.7 374.5,444.5C378.2,447.3 381.9,450.2 385.6,453.1C389.3,456.0 392.9,458.9 396.6,461.9C400.3,464.8 404.0,467.7 407.7,470.7C411.4,473.6 415.1,476.5 418.9,479.3C422.6,482.2 426.4,485.0 430.2,487.8C434.0,490.6 437.9,493.4 441.7,496.1C445.6,498.8 449.4,501.5 453.3,504.1C457.3,506.7 461.2,509.3 465.1,511.8C469.1,514.3 473.1,516.7 477.1,519.1C481.1,521.4 485.2,523.7 489.3,525.9C493.3,528.2 497.5,530.3 501.6,532.3C505.8,534.4 509.9,536.4 514.2,538.2C518.4,540.1 522.6,541.9 526.9,543.6C531.2,545.2 535.5,546.8 539.9,548.3C544.2,549.7 548.6,551.1 553.1,552.3C557.5,553.5 562.0,554.6 566.5,555.6C571.0,556.6 575.6,557.4 580.2,558.1C584.8,558.9 589.5,559.4 594.2,559.9C598.9,560.3 603.6,560.6 608.4,560.8C613.1,561.0 617.9,561.0 622.7,561.0C627.5,561.0 632.3,560.9 637.0,560.7C641.8,560.5 646.6,560.3 651.3,560.0C656.0,559.7 660.7,559.3 665.3,559.0C670.0,558.6 674.6,558.3 679.1,557.9C683.6,557.4 688.0,557.2 692.5,556.3C696.9,555.4 701.3,554.2 705.6,552.3C709.8,550.4 716.0,546.0 718.1,544.8" fill="none" stroke="#aaaaaa" stroke-width="9" opacity="0.55" filter="url(#bl5)" transform="translate(0,-5)" mask="url(#mRidge)"/><rect x="140" y="360" width="300" height="140" fill="#000" opacity="0.045" mask="url(#mRidge)"/></g><g clip-path="url(#clipUp)"><rect x="140" y="360" width="600" height="250" fill="url(#hatchL)"/></g></g></g>
<g transform="translate(0,450)"><use href="#outl" fill="#494949"/><g clip-path="url(#clipOut)"><use href="#outl" transform="translate(0,-3.0)" fill="url(#gb3)"/><g clip-path="url(#clipUp)"><path d="M165.1,382.1C167.1,382.4 173.1,382.8 177.3,384.2C181.5,385.5 185.9,388.5 190.2,390.4C194.6,392.2 199.0,393.8 203.4,395.0C207.9,396.3 212.3,397.1 216.9,397.9C221.4,398.6 225.9,399.0 230.5,399.5C235.1,399.9 239.7,400.2 244.4,400.5C249.0,400.8 253.7,401.1 258.4,401.5C263.1,401.9 267.9,402.4 272.6,403.0C277.3,403.6 282.0,404.2 286.7,405.0C291.4,405.8 296.0,406.7 300.6,407.8C305.2,408.8 309.7,410.0 314.2,411.4C318.6,412.8 323.0,414.3 327.2,416.1C331.5,417.8 335.7,419.8 339.7,421.9C343.8,424.0 347.8,426.3 351.7,428.7C355.6,431.1 359.4,433.7 363.2,436.3C367.0,438.9 370.8,441.7 374.5,444.5C378.2,447.3 381.9,450.2 385.6,453.1C389.3,456.0 392.9,458.9 396.6,461.9C400.3,464.8 404.0,467.7 407.7,470.7C411.4,473.6 415.1,476.5 418.9,479.3C422.6,482.2 426.4,485.0 430.2,487.8C434.0,490.6 437.9,493.4 441.7,496.1C445.6,498.8 449.4,501.5 453.3,504.1C457.3,506.7 461.2,509.3 465.1,511.8C469.1,514.3 473.1,516.7 477.1,519.1C481.1,521.4 485.2,523.7 489.3,525.9C493.3,528.2 497.5,530.3 501.6,532.3C505.8,534.4 509.9,536.4 514.2,538.2C518.4,540.1 522.6,541.9 526.9,543.6C531.2,545.2 535.5,546.8 539.9,548.3C544.2,549.7 548.6,551.1 553.1,552.3C557.5,553.5 562.0,554.6 566.5,555.6C571.0,556.6 575.6,557.4 580.2,558.1C584.8,558.9 589.5,559.4 594.2,559.9C598.9,560.3 603.6,560.6 608.4,560.8C613.1,561.0 617.9,561.0 622.7,561.0C627.5,561.0 632.3,560.9 637.0,560.7C641.8,560.5 646.6,560.3 651.3,560.0C656.0,559.7 660.7,559.3 665.3,559.0C670.0,558.6 674.6,558.3 679.1,557.9C683.6,557.4 688.0,557.2 692.5,556.3C696.9,555.4 701.3,554.2 705.6,552.3C709.8,550.4 716.0,546.0 718.1,544.8 L730,540 L730,340 L140,340 L140,383 Z" fill="url(#gt3)" filter="url(#bi3)"/></g></g></g>
<g transform="translate(0,675)"><use href="#outl" fill="#5f5f5f"/><g clip-path="url(#clipOut)"><use href="#outl" transform="translate(0,-3.0)" fill="url(#gb4)"/><g clip-path="url(#clipUp)"><path d="M165.1,382.1C167.1,382.4 173.1,382.8 177.3,384.2C181.5,385.5 185.9,388.5 190.2,390.4C194.6,392.2 199.0,393.8 203.4,395.0C207.9,396.3 212.3,397.1 216.9,397.9C221.4,398.6 225.9,399.0 230.5,399.5C235.1,399.9 239.7,400.2 244.4,400.5C249.0,400.8 253.7,401.1 258.4,401.5C263.1,401.9 267.9,402.4 272.6,403.0C277.3,403.6 282.0,404.2 286.7,405.0C291.4,405.8 296.0,406.7 300.6,407.8C305.2,408.8 309.7,410.0 314.2,411.4C318.6,412.8 323.0,414.3 327.2,416.1C331.5,417.8 335.7,419.8 339.7,421.9C343.8,424.0 347.8,426.3 351.7,428.7C355.6,431.1 359.4,433.7 363.2,436.3C367.0,438.9 370.8,441.7 374.5,444.5C378.2,447.3 381.9,450.2 385.6,453.1C389.3,456.0 392.9,458.9 396.6,461.9C400.3,464.8 404.0,467.7 407.7,470.7C411.4,473.6 415.1,476.5 418.9,479.3C422.6,482.2 426.4,485.0 430.2,487.8C434.0,490.6 437.9,493.4 441.7,496.1C445.6,498.8 449.4,501.5 453.3,504.1C457.3,506.7 461.2,509.3 465.1,511.8C469.1,514.3 473.1,516.7 477.1,519.1C481.1,521.4 485.2,523.7 489.3,525.9C493.3,528.2 497.5,530.3 501.6,532.3C505.8,534.4 509.9,536.4 514.2,538.2C518.4,540.1 522.6,541.9 526.9,543.6C531.2,545.2 535.5,546.8 539.9,548.3C544.2,549.7 548.6,551.1 553.1,552.3C557.5,553.5 562.0,554.6 566.5,555.6C571.0,556.6 575.6,557.4 580.2,558.1C584.8,558.9 589.5,559.4 594.2,559.9C598.9,560.3 603.6,560.6 608.4,560.8C613.1,561.0 617.9,561.0 622.7,561.0C627.5,561.0 632.3,560.9 637.0,560.7C641.8,560.5 646.6,560.3 651.3,560.0C656.0,559.7 660.7,559.3 665.3,559.0C670.0,558.6 674.6,558.3 679.1,557.9C683.6,557.4 688.0,557.2 692.5,556.3C696.9,555.4 701.3,554.2 705.6,552.3C709.8,550.4 716.0,546.0 718.1,544.8 L730,540 L730,340 L140,340 L140,383 Z" fill="url(#gt4)" filter="url(#bi4)"/></g></g></g>
<g><use href="#bluep" fill="#0f6fb0"/><g clip-path="url(#clipBlue)"><use href="#bluep" transform="translate(0,-2.6)" fill="url(#gblue)"/><g clip-path="url(#clipBlueUp)"><path d="M174.0,1300.2C174.6,1298.5 175.8,1293.0 177.4,1290.1C179.1,1287.1 181.5,1284.5 184.2,1282.7C186.8,1280.8 190.1,1279.9 193.2,1279.0C196.4,1278.1 199.8,1277.8 203.0,1277.3C206.3,1276.8 209.6,1276.5 213.0,1276.2C216.3,1275.9 219.6,1275.8 222.9,1275.7C226.3,1275.6 229.6,1275.6 233.0,1275.6C236.3,1275.7 239.7,1275.8 243.1,1276.0C246.4,1276.1 249.8,1276.3 253.2,1276.6C256.6,1276.8 260.0,1277.1 263.3,1277.4C266.7,1277.7 270.1,1278.0 273.5,1278.4C276.9,1278.7 280.3,1279.1 283.6,1279.5C287.0,1280.0 290.3,1280.5 293.6,1281.2C296.8,1281.9 300.0,1282.8 303.1,1283.8C306.3,1284.8 309.3,1286.1 312.3,1287.4C315.3,1288.8 318.2,1290.3 321.1,1292.0C324.0,1293.6 326.8,1295.4 329.6,1297.2C332.5,1299.0 335.2,1301.0 338.0,1303.0C340.7,1304.9 343.4,1307.0 346.1,1309.0C348.8,1311.1 351.5,1313.2 354.2,1315.2C356.9,1317.3 359.6,1319.4 362.4,1321.4C365.1,1323.4 367.8,1325.4 370.5,1327.3C373.3,1329.2 376.1,1331.1 378.8,1333.0C381.6,1334.8 384.4,1336.6 387.3,1338.3C390.1,1340.0 393.0,1341.7 395.8,1343.4C398.7,1345.0 401.6,1346.6 404.6,1348.2C407.5,1349.7 410.5,1351.2 413.5,1352.7C416.5,1354.2 419.6,1355.6 422.7,1357.0C425.8,1358.4 430.5,1360.4 432.0,1361.1 L440,1400 L160,1400 Z" fill="#fff" opacity="0.055" filter="url(#bl2)"/></g></g></g>
<path d="M178.5,1420.1C178.3,1418.7 178.5,1417.1 178.9,1415.7C179.2,1414.2 179.9,1412.7 180.7,1411.3C181.5,1409.9 182.6,1408.5 183.6,1407.2C184.7,1406.0 185.9,1404.9 187.1,1403.8C188.4,1402.8 189.7,1401.9 191.1,1401.1C192.5,1400.3 193.9,1399.5 195.3,1398.9C196.8,1398.2 198.3,1397.7 199.8,1397.2C201.3,1396.7 202.9,1396.4 204.5,1396.0C206.0,1395.7 207.6,1395.5 209.2,1395.3C210.8,1395.1 212.4,1395.0 214.0,1394.9C215.6,1394.9 217.2,1394.9 218.8,1395.0C220.4,1395.0 222.0,1395.1 223.5,1395.3C225.1,1395.4 226.6,1395.6 228.1,1395.9C229.6,1396.2 231.1,1396.5 232.6,1396.8C234.1,1397.1 235.6,1397.5 237.1,1397.9C238.6,1398.4 240.0,1398.8 241.5,1399.3C243.0,1399.9 244.5,1400.4 245.9,1401.0C247.4,1401.6 248.9,1402.2 250.4,1402.8C251.9,1403.5 253.4,1404.2 254.9,1404.9C256.4,1405.6 257.9,1406.4 259.3,1407.2C260.8,1408.0 262.2,1408.9 263.6,1409.8C264.9,1410.7 266.3,1411.7 267.5,1412.7C268.7,1413.8 269.9,1414.8 270.9,1416.0C271.9,1417.2 272.9,1418.5 273.7,1419.8C274.4,1421.1 275.2,1422.6 275.6,1424.0C276.1,1425.5 276.4,1427.0 276.4,1428.5C276.4,1429.9 276.3,1431.3 275.7,1432.6C275.2,1433.9 274.3,1435.1 273.2,1436.2C272.2,1437.2 270.8,1438.2 269.4,1439.0C268.0,1439.9 266.5,1440.6 265.0,1441.2C263.5,1441.9 261.9,1442.4 260.4,1442.9C258.8,1443.3 257.3,1443.7 255.7,1444.0C254.1,1444.3 252.5,1444.5 251.0,1444.7C249.4,1444.9 247.8,1445.0 246.2,1445.0C244.6,1445.1 243.0,1445.0 241.4,1445.0C239.8,1445.0 238.2,1444.9 236.6,1444.7C235.0,1444.6 233.4,1444.5 231.8,1444.3C230.2,1444.1 228.7,1443.9 227.1,1443.7C225.5,1443.5 223.9,1443.3 222.4,1443.1C220.8,1442.9 219.3,1442.6 217.7,1442.4C216.2,1442.1 214.6,1441.8 213.1,1441.5C211.6,1441.2 210.1,1440.8 208.5,1440.5C207.0,1440.1 205.5,1439.7 204.0,1439.2C202.5,1438.7 201.1,1438.2 199.6,1437.6C198.1,1437.1 196.7,1436.4 195.2,1435.7C193.7,1435.0 192.3,1434.3 190.9,1433.5C189.4,1432.6 188.0,1431.7 186.6,1430.8C185.3,1429.8 183.9,1428.8 182.8,1427.6C181.7,1426.5 180.6,1425.3 179.9,1424.1C179.2,1422.8 178.7,1421.4 178.5,1420.1Z" fill="#ff9418"/><g clip-path="url(#clipOr)"><path d="M170.0,1398.0C170.8,1398.4 173.1,1399.7 174.7,1400.4C176.3,1401.1 177.9,1401.8 179.6,1402.4C181.2,1403.0 182.8,1403.6 184.5,1404.1C186.1,1404.6 187.8,1405.1 189.4,1405.6C191.1,1406.0 192.8,1406.4 194.5,1406.8C196.2,1407.1 197.9,1407.5 199.6,1407.8C201.3,1408.1 203.0,1408.4 204.7,1408.6C206.4,1408.9 208.1,1409.1 209.9,1409.4C211.6,1409.6 213.3,1409.8 215.0,1410.0C216.8,1410.2 218.5,1410.4 220.2,1410.6C222.0,1410.7 223.7,1410.9 225.5,1411.1C227.2,1411.3 228.9,1411.5 230.7,1411.6C232.4,1411.8 234.1,1412.0 235.8,1412.2C237.6,1412.5 239.3,1412.7 241.0,1412.9C242.7,1413.2 244.4,1413.4 246.2,1413.7C247.9,1414.0 249.6,1414.3 251.2,1414.6C252.9,1415.0 254.6,1415.4 256.3,1415.8C258.0,1416.2 259.6,1416.6 261.3,1417.1C262.9,1417.6 264.6,1418.1 266.2,1418.7C267.8,1419.3 269.4,1419.9 271.0,1420.6C272.6,1421.3 274.2,1422.0 275.8,1422.8C277.3,1423.6 278.9,1424.4 280.4,1425.4C282.0,1426.3 284.2,1427.8 285.0,1428.3 L290,1380 L160,1380 Z" fill="#e9870f" filter="url(#bl05)"/></g>
<g fill="none" stroke="#0893b6" stroke-width="3" stroke-linecap="round" stroke-linejoin="round"><path d="M156.5,97.75 L156.5,298.80 Q156.5,305.2 162.06,310.95 L225.1,376.1"/><path d="M783.6,97.75 L783.6,298.10 Q783.6,304.5 777.92,310.14 L566.8,519.7"/><path d="M783.6,394.75 L783.6,548.30 Q783.6,554.7 777.95,560.37 L581.1,757.8"/><path d="M783.6,644.75 L783.6,798.30 Q783.6,804.7 777.93,810.35 L594.8,992.9"/><path d="M783.6,897.75 L783.6,1011.40 Q783.6,1017.8 777.92,1023.43 L607,1192.9"/><path d="M783.6,1106.9 L783.6,1270.2 Q783.6,1275.2 780.1,1278.7 L757.2,1301.8 Q753.7,1305.3 748.7,1305.3 L386,1305.3"/><path d="M783.6,1367.8 L783.6,1478.8 Q783.6,1486.8 775.6,1486.8 L308,1486.8 Q301.8,1486.8 297.5,1482.5 L254,1439"/></g>
<g fill="#0893b6"><circle cx="225.1" cy="376.1" r="12"/><circle cx="566.8" cy="519.7" r="12"/><circle cx="581.1" cy="757.8" r="12"/><circle cx="594.8" cy="992.9" r="12"/><circle cx="607" cy="1192.9" r="12"/><circle cx="386" cy="1305" r="12"/><circle cx="254" cy="1439" r="12"/></g>
<g>
<text class="h" transform="translate(182.14,127.08) scale(0.9162,1)">ПОКРЫТИЕ ИЗ ПОЛИЭСТЕРА</text>
<text class="b" transform="translate(181.98,182.75) scale(1.0019,1)">Пропускает воздух внутрь стелек</text>
<text class="b" transform="translate(181.63,220.85) scale(1.0035,1)">и оптимально отводит влагу</text>
<text class="b" transform="translate(181.86,258.85) scale(1.0140,1)">от подошвы стопы</text>
<text class="h" transform="translate(811.26,127.08) scale(0.9217,1)">АМОРТИЗИРУЮЩАЯ ВСТАВКА</text>
<text class="h" transform="translate(810.86,173.78) scale(0.9108,1)">В ОБЛАСТИ ПЛЮСНЫ</text>
<text class="b" transform="translate(811.01,229.85) scale(0.9986,1)">Снижает ударную нагрузку в области</text>
<text class="b" transform="translate(810.63,268.05) scale(1.0036,1)">плюсны, особенно при активной работе</text>
<text class="b" transform="translate(811.21,305.85) scale(1.0365,1)">стопы</text>
<text class="h" transform="translate(810.71,423.98) scale(0.9299,1)">ПЕНА С ОТКРЫТЫМИ ЯЧЕЙКАМИ</text>
<text class="b" transform="translate(811.20,479.65) scale(0.9935,1)">Помогает отводить влагу и обеспечивает более</text>
<text class="b" transform="translate(810.65,517.85) scale(0.9973,1)">прохладную, сухую и здоровую среду для стопы</text>
<text class="b" transform="translate(810.62,555.65) scale(1.0104,1)">при занятиях спортом</text>
<text class="h" transform="translate(810.71,673.97) scale(0.9290,1)">ПЕНА С ЭФФЕКТОМ ПАМЯТИ</text>
<text class="b" transform="translate(811.19,729.65) scale(0.9985,1)">Подстраивается под параметры стопы и создает</text>
<text class="b" transform="translate(810.62,767.85) scale(1.0092,1)">максимально комфортные условия для занятий</text>
<text class="b" transform="translate(811.24,805.65) scale(1.0183,1)">спортом</text>
<text class="h" transform="translate(811.25,923.97) scale(0.9262,1)">АНТИБАКТЕРИАЛЬНЫЙ СЛОЙ</text>
<text class="b" transform="translate(811.01,979.65) scale(0.9985,1)">Способствует уменьшению образования</text>
<text class="b" transform="translate(810.62,1017.85) scale(1.0112,1)">и размножения бактерий</text>
<text class="h" transform="translate(812.21,1136.38) scale(0.9374,1)">УПРУГИЙ И ЭЛАСТИЧНЫЙ СЛОЙ</text>
<text class="h" transform="translate(810.49,1183.38) scale(0.9170,1)">«ДЫШАЩЕГО» МАТЕРИАЛА</text>
<text class="b" transform="translate(812.33,1239.05) scale(0.9972,1)">Дополнительно амортизирует и снимает ударную</text>
<text class="b" transform="translate(810.63,1277.45) scale(1.0071,1)">нагрузку с заднего отдела стопы</text>
<text class="h" transform="translate(810.75,1394.97) scale(0.9157,1)">ГЕЛЕВЫЙ ПЯТОЧНЫЙ АМОРТИЗАТОР</text>
<text class="b" transform="translate(811.01,1450.85) scale(0.9972,1)">Снимает ударную нагрузку с пяточной области,</text>
<text class="b" transform="translate(811.23,1489.05) scale(1.0184,1)">суставов ног и позвоночника</text>
</g>
</svg>
</body></html>
